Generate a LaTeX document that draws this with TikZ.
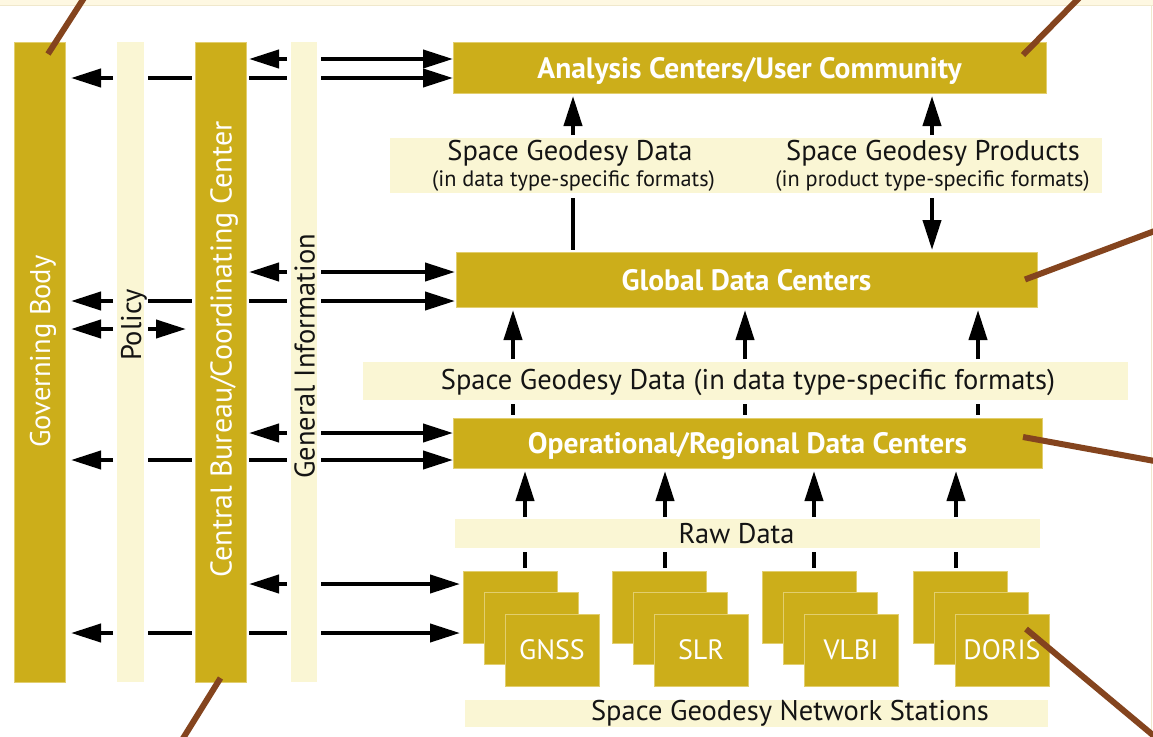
\documentclass[tikz,border=0pt]{standalone}
\usepackage{fontspec}
\setmainfont{PT Sans}
\usetikzlibrary{arrows.meta,calc}

\definecolor{gold}{RGB}{204,174,26}
\definecolor{goldedge}{RGB}{226,206,110}
\definecolor{cream}{RGB}{250,246,212}
\definecolor{topband}{RGB}{254,248,226}
\definecolor{topline}{RGB}{240,232,204}
\definecolor{callout}{RGB}{132,68,30}
\definecolor{ink}{RGB}{20,20,20}

\begin{document}
\begin{tikzpicture}[x=1pt,y=-1pt,
  every node/.style={inner sep=0pt, outer sep=0pt},
  bigfont/.style={font=\fontsize{28.5}{31}\selectfont},
  smallfont/.style={font=\fontsize{22.3}{24}\selectfont},
  goldbox/.style={fill=gold, draw=goldedge, line width=0.6pt},
  boxtitle/.style={text=white, font=\fontsize{29.5}{32}\selectfont\bfseries,
    text height=21pt, text depth=0pt},
  creamband/.style={fill=cream},
  darktext/.style={text=ink},
  vlabel/.style={rotate=90, bigfont},
  link/.style={draw=black, line width=4pt},
  arr/.style={link, -{Triangle[length=30pt,width=18pt]}},
  callline/.style={draw=callout, line width=6pt},
]
\clip (0,0) rectangle (1153,736);
\fill[white] (0,0) rectangle (1153,736);

% top strip and right edge
\fill[topband] (0,0) rectangle (1153,5);
\draw[topline, line width=1pt] (0,5.5) -- (1153,5.5);
\draw[topline, line width=1pt] (1151,6) -- (1151,736);

% ---- vertical bars on the left ----
\node[goldbox, minimum width=51pt, minimum height=640pt] (gov) at (39.5,362) {};
\node[creamband, minimum width=27pt, minimum height=640pt] (pol) at (130.5,362) {};
\node[goldbox, minimum width=51pt, minimum height=640pt] (cb) at (220.5,362) {};
\node[creamband, minimum width=26pt, minimum height=640pt] (gi) at (304,362) {};

\node[vlabel, text=white, text height=20pt, text depth=0pt] (govT) at (40,351.5) {Governing Body};
\node[vlabel, darktext, text height=20pt, text depth=0pt] (polT) at (131,325) {Policy};
\node[vlabel, text=white, font=\fontsize{30}{32}\selectfont, text height=21pt, text depth=0pt] (cbT) at (221,349.5) {Central Bureau/Coordinating Center};
\node[vlabel, darktext, text height=20pt, text depth=0pt] (giT) at (304.5,356.5) {General Information};

% ---- boxes and bands on the right ----
\node[goldbox, boxtitle, minimum width=593pt, minimum height=51pt] (ac) at (749.5,67.5) {Analysis Centers/User Community};
\node[creamband, minimum width=712pt, minimum height=55pt] (band1) at (746,165.5) {};
\node[darktext, bigfont, anchor=base] (sgd) at (570,160) {Space Geodesy Data};
\node[darktext, smallfont, anchor=base] (sgdf) at (573.5,186) {(in data type-specific formats)};
\node[darktext, bigfont, anchor=base] (sgp) at (933,160) {Space Geodesy Products};
\node[darktext, smallfont, anchor=base] (sgpf) at (932.5,186) {(in product type-specific formats)};

\node[goldbox, boxtitle, minimum width=581pt, minimum height=55pt] (gdc) at (746.5,279.5) {Global Data Centers};
\node[creamband, minimum width=765pt, minimum height=38pt] (band2) at (745.5,381) {};
\node[darktext, bigfont, anchor=base] (band2T) at (748,389) {Space Geodesy Data (in data type-specific formats)};
\node[goldbox, boxtitle, minimum width=589pt, minimum height=50pt] (odc) at (747.5,443) {Operational/Regional Data Centers};
\node[creamband, minimum width=585pt, minimum height=29pt] (raw) at (747.5,533.5) {};
\node[darktext, bigfont] (rawT) at (736.5,533.5) {Raw Data};
\node[creamband, minimum width=583pt, minimum height=27pt] (net) at (756.5,713.5) {};
\node[darktext, bigfont] (netT) at (790,713.5) {Space Geodesy Network Stations};

% ---- station stacks ----
\foreach \n/\x/\lab in {gnss/463/GNSS, slr/612/SLR, vlbi/762/VLBI, doris/913/DORIS}{
  \node[goldbox, anchor=north west, minimum width=94pt, minimum height=72pt] (\n-1) at (\x,571) {};
  \node[goldbox, anchor=north west, minimum width=94pt, minimum height=72pt] (\n-2) at ({\x+21},592) {};
  \node[goldbox, anchor=north west, minimum width=94pt, minimum height=72pt, text=white,
        font=\fontsize{28}{30}\selectfont] (\n) at ({\x+42},614) {\lab};
}

% ---- horizontal links from the bars to the boxes ----
\foreach \ya/\yb/\t/\s in {59/78/ac/0, 272/301/gdc/1, 433/460/odc/0, 584/633/gnss-1/3}{
  % upper row: information link
  \draw[arr, shorten <=4pt, shorten >=3pt] (gi.west |- 0,\ya) -- (cb.east |- 0,\ya);
  \draw[arr, shorten <=4pt, shorten >=\s pt] (gi.east |- 0,\ya) -- (\t.west |- 0,\ya);
  % lower row: coordination link to the governing body
  \draw[arr, shorten <=4pt, shorten >=6pt] (pol.west |- 0,\yb) -- (gov.east |- 0,\yb);
  \draw[link, shorten <=4pt, shorten >=3pt] (pol.east |- 0,\yb) -- (cb.west |- 0,\yb);
  \draw[link, shorten <=3pt, shorten >=4pt] (cb.east |- 0,\yb) -- (gi.west |- 0,\yb);
  \draw[arr, shorten <=4pt, shorten >=\s pt] (gi.east |- 0,\yb) -- (\t.west |- 0,\yb);
}
% policy link
\draw[arr, shorten <=4pt, shorten >=6pt] (pol.west |- 0,329) -- (gov.east |- 0,329);
\draw[arr, shorten <=4pt, shorten >=9pt] (pol.east |- 0,329) -- (cb.west |- 0,329);

% ---- vertical data flow ----
\foreach \x in {573,932}
  \draw[arr, shorten <=3pt, shorten >=3pt] (band1.north -| \x,0) -- (ac.south -| \x,0);
\draw[link, shorten <=5pt, shorten >=2pt] (band1.south -| 573,0) -- (gdc.north -| 573,0);
\draw[arr, shorten <=5pt, shorten >=2pt] (band1.south -| 932,0) -- (gdc.north -| 932,0);

\foreach \x in {513,745,978}{
  \draw[arr, shorten <=3pt, shorten >=3pt] (band2.north -| \x,0) -- (gdc.south -| \x,0);
  \draw[link, shorten <=4pt, shorten >=3pt] (band2.south -| \x,0) -- (odc.north -| \x,0);
}
\foreach \x/\n in {525/gnss, 665/slr, 814/vlbi, 956/doris}{
  \draw[arr, shorten <=2pt, shorten >=3pt] (raw.north -| \x,0) -- (odc.south -| \x,0);
  \draw[link, shorten <=4pt, shorten >=3pt] (raw.south -| \x,0) -- (\n-1.north -| \x,0);
}

% ---- callout lines leaving the frame ----
\coordinate (k1) at (84,-2);
\coordinate (k2) at (1079,-2);
\coordinate (k3) at (1160,229);
\coordinate (k4) at (1160,462);
\coordinate (k5) at (1160,741);
\coordinate (k6) at (182,740);
\draw[callline] ([xshift=8.5pt,yshift=-12pt]gov.north) -- (k1);
\draw[callline] ([xshift=-23pt,yshift=-13pt]ac.north east) -- (k2);
\draw[callline] ([xshift=-12pt]gdc.east) -- (k3);
\draw[callline] ([xshift=-19pt,yshift=6pt]odc.east) -- (k4);
\draw[callline] ([xshift=-23pt,yshift=-15pt]doris.north east) -- (k5);
\draw[callline] ([yshift=4pt]cb.south) -- (k6);
\end{tikzpicture}
\end{document}
